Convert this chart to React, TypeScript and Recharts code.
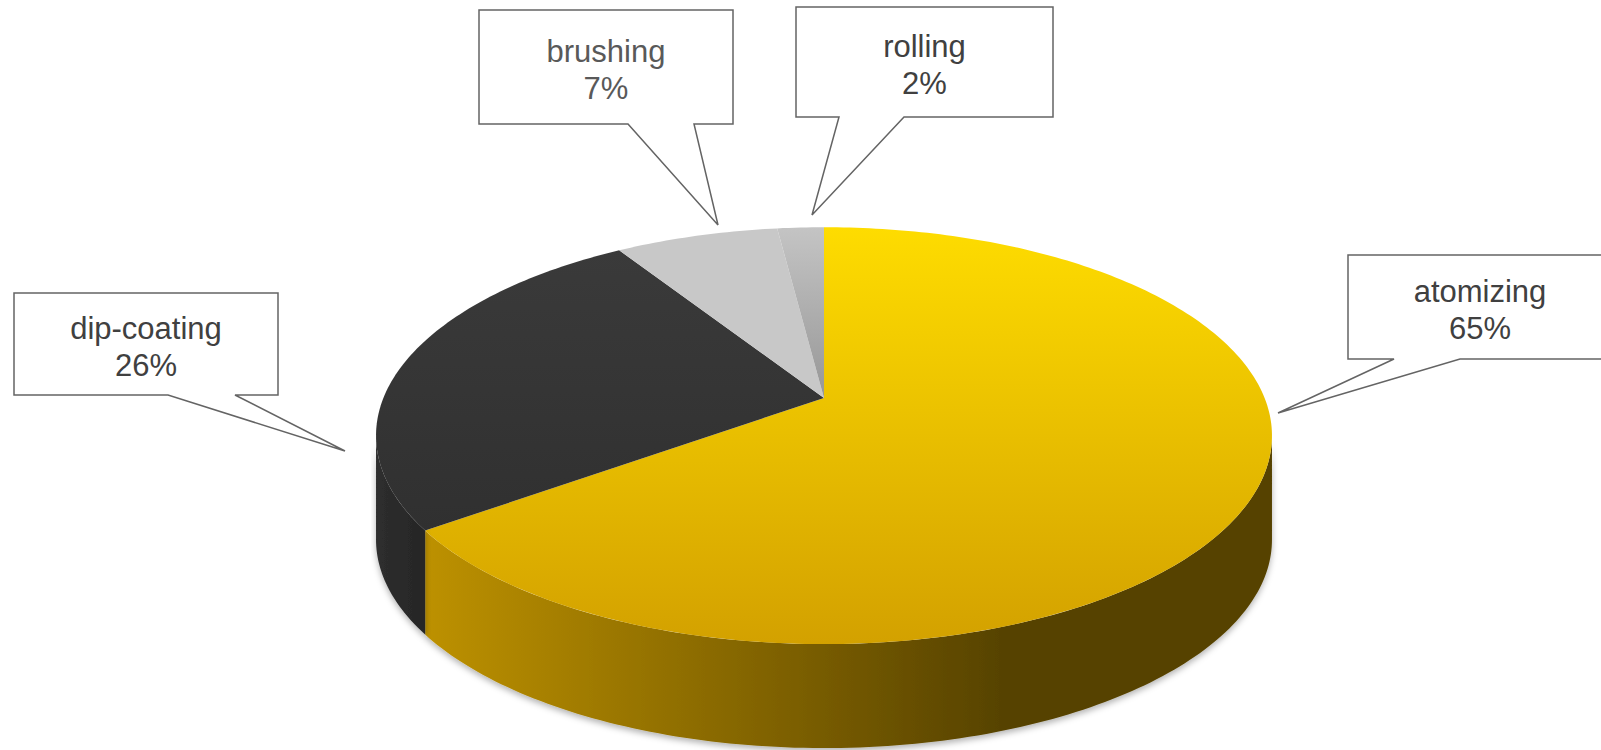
import React from 'react'
import { PieChart, Pie, Tooltip } from 'recharts'

const categories = ['atomizing', 'dip-coating', 'brushing', 'rolling']
const shares = [65, 26, 7, 2]

const data = categories.map((name, i) => ({ name, value: shares[i] }))

// callout boxes (x, y, w, h), wedge base on the bottom edge, and wedge tip
const CALLOUTS = [
  { x: 1348, y: 255, w: 264, h: 104, b1: 1394, b2: 1460, tx: 1278, ty: 413, color: '#404040' },
  { x: 14, y: 293, w: 264, h: 102, b1: 168, b2: 235, tx: 345, ty: 451, color: '#404040' },
  { x: 479, y: 10, w: 254, h: 114, b1: 628, b2: 694, tx: 718, ty: 225, color: '#595959' },
  { x: 796, y: 7, w: 257, h: 110, b1: 839, b2: 904, tx: 812, ty: 215, color: '#404040' },
]

const TOP_FILL = ['url(#top0)', 'url(#top1)', '#C8C8C8', 'url(#top3)']
const WALL_FILL = ['url(#wall0)', 'url(#wall1)', '#A0A0A0', '#909090']

// fake perspective for the tilted disc
const PERSP = 0.1807
const SQUASH = 0.4576
const DEPTH = 104
const SIL = (Math.asin(-PERSP) * 180) / Math.PI // silhouette angle

function proj(cx: number, cy: number, r: number, deg: number) {
  const a = (deg * Math.PI) / 180
  const d = 1 + PERSP * Math.sin(a)
  return [cx + (r * Math.cos(a)) / d, cy - (r * SQUASH * Math.sin(a)) / d]
}

function arcPoints(cx: number, cy: number, r: number, a1: number, a2: number, dy = 0) {
  const n = Math.max(2, Math.ceil(Math.abs(a2 - a1)))
  const pts: string[] = []
  for (let i = 0; i <= n; i++) {
    const [x, y] = proj(cx, cy, r, a1 + ((a2 - a1) * i) / n)
    pts.push(`${x.toFixed(2)},${(y + dy).toFixed(2)}`)
  }
  return pts
}

function Slice3D(props: any) {
  const { cx, cy, outerRadius, startAngle, endAngle } = props
  const name = props.payload?.name ?? props.name
  const idx = Math.max(0, categories.indexOf(name))
  const lo = Math.min(startAngle, endAngle)
  const hi = Math.max(startAngle, endAngle)

  const walls: React.ReactNode[] = []
  for (let k = -1; k <= 1; k++) {
    const wLo = Math.max(lo, -180 - SIL + 360 * k)
    const wHi = Math.min(hi, SIL + 360 * k)
    if (wHi > wLo) {
      const top = arcPoints(cx, cy, outerRadius, wLo, wHi)
      const bottom = arcPoints(cx, cy, outerRadius, wHi, wLo, DEPTH)
      walls.push(
        <path
          key={k}
          d={`M${top.join(' L')} L${bottom.join(' L')} Z`}
          fill={WALL_FILL[idx]}
          filter="url(#pieShadow)"
        />
      )
    }
  }

  const rim = arcPoints(cx, cy, outerRadius, startAngle, endAngle)
  return (
    <g>
      {walls}
      <path d={`M${cx},${cy} L${rim.join(' L')} Z`} fill={TOP_FILL[idx]} />
    </g>
  )
}

function Callout(props: any) {
  const c = CALLOUTS[props.index]
  if (!c) return null
  const mid = c.x + c.w / 2
  const cyBox = c.y + c.h / 2
  const d = `M${c.x},${c.y} H${c.x + c.w} V${c.y + c.h} H${c.b2} L${c.tx},${c.ty} L${c.b1},${c.y + c.h} H${c.x} Z`
  return (
    <g>
      <path d={d} fill="#FFFFFF" stroke="#646464" strokeWidth={1.5} />
      <text
        x={mid}
        textAnchor="middle"
        fontFamily="'Liberation Sans', Arial, sans-serif"
        fontSize={31}
        fill={c.color}
      >
        <tspan x={mid} y={cyBox - 5}>{props.name}</tspan>
        <tspan x={mid} y={cyBox + 32}>{`${Math.round(props.percent * 100)}%`}</tspan>
      </text>
    </g>
  )
}

export default function App() {
  return (
    <div style={{ position: 'absolute', left: 0, top: 0, background: '#fff' }}>
      <PieChart width={1601} height={750} margin={{ top: 0, right: 0, bottom: 0, left: 0 }}>
        <defs>
          <linearGradient id="top0" x1="0" y1="0" x2="0" y2="1">
            <stop offset="0%" stopColor="#FEDC00" />
            <stop offset="100%" stopColor="#D3A100" />
          </linearGradient>
          <linearGradient id="top1" x1="0" y1="0" x2="0" y2="1">
            <stop offset="0%" stopColor="#3A3A3A" />
            <stop offset="100%" stopColor="#303030" />
          </linearGradient>
          <linearGradient id="top3" x1="0" y1="0" x2="0" y2="1">
            <stop offset="0%" stopColor="#C4C4C4" />
            <stop offset="100%" stopColor="#979797" />
          </linearGradient>
          <linearGradient id="wall0" x1="0" y1="0" x2="1" y2="0">
            <stop offset="0%" stopColor="#BD9100" />
            <stop offset="68%" stopColor="#574300" />
            <stop offset="100%" stopColor="#574300" />
          </linearGradient>
          <linearGradient id="wall1" x1="0" y1="0" x2="1" y2="0">
            <stop offset="0%" stopColor="#2E2E2E" />
            <stop offset="100%" stopColor="#262626" />
          </linearGradient>
          <filter id="pieShadow" x="-10%" y="-10%" width="120%" height="130%">
            <feDropShadow dx="0" dy="3" stdDeviation="3" floodColor="#000" floodOpacity="0.3" />
          </filter>
        </defs>
        <Tooltip defaultIndex={0} content={() => null} cursor={false} />
        <Pie
          data={data}
          dataKey="value"
          nameKey="name"
          cx={824}
          cy={398}
          innerRadius={0}
          outerRadius={440.6}
          startAngle={90}
          endAngle={-270}
          stroke="none"
          isAnimationActive={false}
          labelLine={false}
          label={Callout}
          {...({ shape: Slice3D } as any)}
          activeShape={Slice3D}
          inactiveShape={Slice3D}
        />
      </PieChart>
    </div>
  )
}
